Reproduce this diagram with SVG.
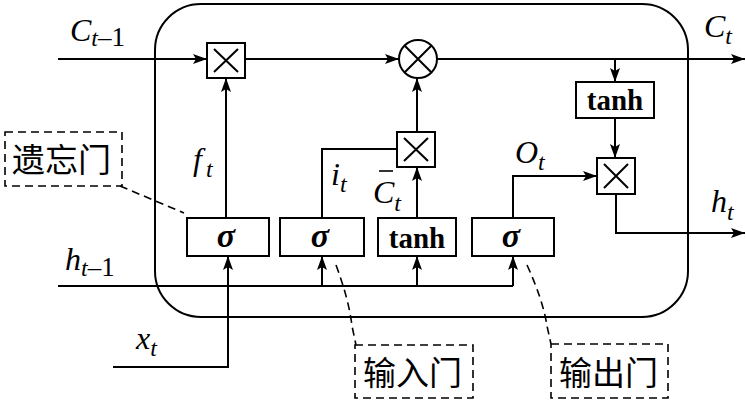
<svg xmlns="http://www.w3.org/2000/svg" width="746" height="402" viewBox="0 0 746 402">
<defs>
<marker id="a" viewBox="0 0 14 10" refX="14" refY="5" markerWidth="14" markerHeight="10" orient="auto" markerUnits="userSpaceOnUse"><path d="M0,0 L14,5 L0,10 L3,5 z" fill="#000"/></marker>
</defs>
<style>
.ln{fill:none;stroke:#000;stroke-width:2}
.bx{fill:#fff;stroke:#000;stroke-width:2}
.ds{fill:none;stroke:#000;stroke-width:1.6;stroke-dasharray:8,5}
</style>
<rect id="cell" x="155" y="4" width="533" height="313" rx="46" ry="46" class="ln"/>
<g id="connectors">
<line x1="58" y1="59" x2="207" y2="59" class="ln" marker-end="url(#a)"/>
<line x1="245" y1="59" x2="399" y2="59" class="ln" marker-end="url(#a)"/>
<line x1="437" y1="59" x2="745" y2="59" class="ln" marker-end="url(#a)"/>
<line x1="615" y1="59" x2="615" y2="82" class="ln" marker-end="url(#a)"/>
<line x1="615" y1="118" x2="615" y2="158" class="ln" marker-end="url(#a)"/>
<line x1="226" y1="218" x2="226" y2="78" class="ln" marker-end="url(#a)"/>
<polyline points="322,218 322,149 397,149" class="ln"/>
<line x1="417" y1="218" x2="417" y2="167" class="ln" marker-end="url(#a)"/>
<line x1="417" y1="132" x2="417" y2="78" class="ln" marker-end="url(#a)"/>
<polyline points="513,218 513,176 597,176" class="ln" marker-end="url(#a)"/>
<polyline points="616,194 616,233 745,233" class="ln" marker-end="url(#a)"/>
<polyline points="58,286 513,286" class="ln"/>
<line x1="322" y1="286" x2="322" y2="256" class="ln" marker-end="url(#a)"/>
<line x1="417" y1="286" x2="417" y2="256" class="ln" marker-end="url(#a)"/>
<line x1="513" y1="286" x2="513" y2="256" class="ln" marker-end="url(#a)"/>
<polyline points="113,367 228,367 228,256" class="ln" marker-end="url(#a)"/>
<path d="M120,186 L184,213" class="ds"/>
<path d="M336,265 Q349,300 352,326 L356,345" class="ds"/>
<path d="M527,265 Q543,300 547,326 L551,344" class="ds"/>
</g>
<g font-family="'Liberation Serif', 'Times New Roman', serif">
<g id="mul1"><rect x="207" y="43" width="38" height="35" class="bx"/><path d="M214,49 L238,72 M238,49 L214,72" class="ln"/></g>
<g id="add"><circle cx="418" cy="59" r="19" class="bx"/><path d="M405,46 L431,72 M431,46 L405,72" class="ln"/></g>
<g id="tanh2"><rect x="576" y="82" width="78" height="36" class="bx"/><text x="615" y="110" font-size="29" font-weight="bold" text-anchor="middle">tanh</text></g>
<g id="mul3"><rect x="597" y="158" width="38" height="36" class="bx"/><path d="M604,164 L628,188 M628,164 L604,188" class="ln"/></g>
<g id="mul2"><rect x="397" y="132" width="38" height="35" class="bx"/><path d="M404,138 L428,161 M428,138 L404,161" class="ln"/></g>
<g id="sig1"><rect x="187" y="218" width="82" height="38" class="bx"/><text x="226" y="247" font-size="34" font-style="italic" font-weight="bold" text-anchor="middle">σ</text></g>
<g id="sig2"><rect x="280" y="218" width="84" height="38" class="bx"/><text x="320" y="247" font-size="34" font-style="italic" font-weight="bold" text-anchor="middle">σ</text></g>
<g id="tanh1"><rect x="378" y="218" width="78" height="38" class="bx"/><text x="417" y="248" font-size="29" font-weight="bold" text-anchor="middle">tanh</text></g>
<g id="sig3"><rect x="472" y="218" width="82" height="38" class="bx"/><text x="511" y="247" font-size="34" font-style="italic" font-weight="bold" text-anchor="middle">σ</text></g>
<g id="forget"><rect x="5" y="132" width="117" height="54" class="ds"/><text x="12" y="172" font-family="'Noto Sans CJK SC', sans-serif" font-size="33">遗忘门</text></g>
<g id="input"><rect x="355" y="345" width="118" height="53" class="ds"/><text x="363" y="385" font-family="'Noto Sans CJK SC', sans-serif" font-size="33">输入门</text></g>
<g id="output"><rect x="551" y="344" width="117" height="54" class="ds"/><text x="559" y="385" font-family="'Noto Sans CJK SC', sans-serif" font-size="33">输出门</text></g>
<g id="labels" font-style="italic" font-size="32">
<text x="70" y="41">C<tspan font-size="24" dy="5">t</tspan><tspan font-style="normal" font-size="27">–1</tspan></text>
<text x="704" y="37">C<tspan font-size="24" dy="7">t</tspan></text>
<text x="193" y="170">f<tspan font-size="24" dy="7" dx="4">t</tspan></text>
<text x="331" y="185">i<tspan font-size="24" dy="7">t</tspan></text>
<text x="373" y="203">C<tspan font-size="24" dy="8">t</tspan></text>
<line x1="379" y1="171" x2="393" y2="171" stroke="#000" stroke-width="1.6"/>
<text x="515" y="163">O<tspan font-size="24" dy="7">t</tspan></text>
<text x="711" y="212">h<tspan font-size="24" dy="8">t</tspan></text>
<text x="65" y="270">h<tspan font-size="24" dy="6">t</tspan><tspan font-style="normal" font-size="27">–1</tspan></text>
<text x="136" y="349">x<tspan font-size="24" dy="7">t</tspan></text>
</g>
</g>
</svg>
